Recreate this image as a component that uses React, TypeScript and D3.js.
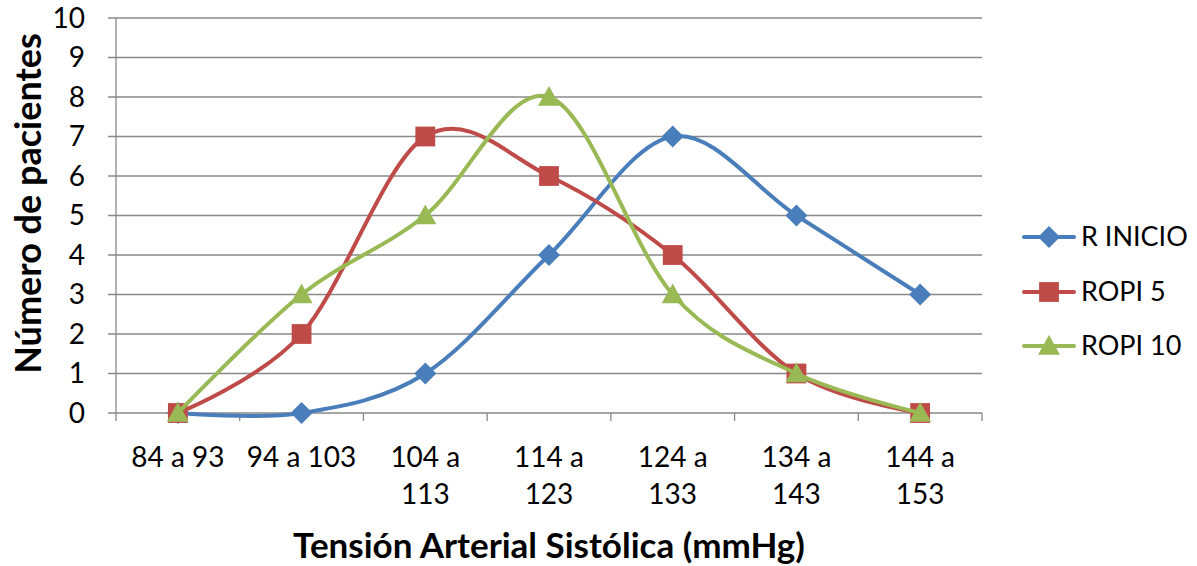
import React, { useEffect, useRef } from "react";
import * as d3 from "d3";

// categories on the x axis (two-line labels where the chart wraps them)
const categories = ["84 a 93", "94 a 103", "104 a 113", "114 a 123", "124 a 133", "134 a 143", "144 a 153"];
const categoryLines = [["84 a 93"], ["94 a 103"], ["104 a", "113"], ["114 a", "123"], ["124 a", "133"], ["134 a", "143"], ["144 a", "153"]];

const rInicio = [0, 0, 1, 4, 7, 5, 3];
const ropi5 = [0, 2, 7, 6, 4, 1, 0];
const ropi10 = [0, 3, 5, 8, 3, 1, 0];

const seriesNames = ["R INICIO", "ROPI 5", "ROPI 10"];
const seriesColors = ["#4A7EBB", "#BE4B48", "#98B954"];
const yTicks = [0, 1, 2, 3, 4, 5, 6, 7, 8, 9, 10];

const FONT = "Lato, 'Open Sans', sans-serif";

function App() {
  const ref = useRef<SVGSVGElement>(null);

  useEffect(() => {
    const svg = d3.select(ref.current);
    svg.selectAll("*").remove();

    const width = 1197, height = 566;
    const margin = { top: 18, right: 215, bottom: 153, left: 116 };
    const innerW = width - margin.left - margin.right;
    const innerH = height - margin.top - margin.bottom;

    const g = svg.append("g").attr("transform", `translate(${margin.left},${margin.top})`);

    const x = d3.scaleBand().domain(categories).range([0, innerW]);
    const y = d3.scaleLinear().domain([0, 10]).range([innerH, 0]);

    // horizontal gridlines + y tick marks
    g.selectAll("line.grid")
      .data(yTicks)
      .join("line")
      .attr("x1", -8)
      .attr("x2", innerW)
      .attr("y1", d => y(d))
      .attr("y2", d => y(d))
      .attr("stroke", "#898989")
      .attr("stroke-width", 1.3);

    // y axis line
    g.append("line")
      .attr("x1", 0).attr("x2", 0)
      .attr("y1", 0).attr("y2", innerH)
      .attr("stroke", "#898989").attr("stroke-width", 1.3);

    // x tick marks at band edges
    const edges = categories.map(c => x(c)!).concat([innerW]);
    g.selectAll("line.xtick")
      .data(edges)
      .join("line")
      .attr("x1", d => d).attr("x2", d => d)
      .attr("y1", innerH).attr("y2", innerH + 8)
      .attr("stroke", "#898989").attr("stroke-width", 1.3);

    // y tick labels
    g.selectAll("text.ylab")
      .data(yTicks)
      .join("text")
      .attr("x", -31)
      .attr("y", d => y(d))
      .attr("dy", "0.35em")
      .attr("text-anchor", "end")
      .style("font-family", FONT)
      .style("font-size", "28px")
      .attr("fill", "#000")
      .text(d => d);

    // x tick labels
    categories.forEach((c, i) => {
      const t = g.append("text")
        .attr("x", x(c)! + x.bandwidth() / 2)
        .attr("y", innerH + 54)
        .attr("text-anchor", "middle")
        .style("font-family", FONT)
        .style("font-size", "28px")
        .attr("fill", "#000");
      categoryLines[i].forEach((line, j) => {
        t.append("tspan")
          .attr("x", x(c)! + x.bandwidth() / 2)
          .attr("dy", j === 0 ? 0 : 37)
          .text(line);
      });
    });

    // axis titles
    svg.append("text")
      .attr("x", margin.left + innerW / 2)
      .attr("y", 558)
      .attr("text-anchor", "middle")
      .style("font-family", FONT)
      .style("font-size", "35px")
      .style("font-weight", "bold")
      .text("Tensión Arterial Sistólica (mmHg)");

    svg.append("text")
      .attr("transform", `translate(41,${margin.top + innerH / 2 - 12}) rotate(-90)`)
      .attr("text-anchor", "middle")
      .style("font-family", FONT)
      .style("font-size", "36px")
      .style("font-weight", "bold")
      .text("Número de pacientes");

    const allSeries = [rInicio, ropi5, ropi10];
    const cx = (i: number) => x(categories[i])! + x.bandwidth() / 2;

    const line = d3.line<number>()
      .x((_, i) => cx(i))
      .y(d => y(d))
      .curve(d3.curveCardinal.tension(0));

    const drawMarker = (sel: any, k: number, px: number, py: number, s: number) => {
      if (k === 0) {
        sel.append("path")
          .attr("d", `M${px},${py - s}L${px + s},${py}L${px},${py + s}L${px - s},${py}Z`)
          .attr("fill", seriesColors[k]);
      } else if (k === 1) {
        sel.append("rect")
          .attr("x", px - s * 0.9).attr("y", py - s * 0.9)
          .attr("width", s * 1.8).attr("height", s * 1.8)
          .attr("fill", seriesColors[k]);
      } else {
        sel.append("path")
          .attr("d", `M${px},${py - s}L${px + s},${py + s * 0.8}L${px - s},${py + s * 0.8}Z`)
          .attr("fill", seriesColors[k]);
      }
    };

    allSeries.forEach((data, k) => {
      const sg = g.append("g");
      sg.append("path")
        .datum(data)
        .attr("d", line)
        .attr("fill", "none")
        .attr("stroke", seriesColors[k])
        .attr("stroke-width", 4)
        .attr("stroke-linecap", "round");
      data.forEach((v, i) => drawMarker(sg, k, cx(i), y(v), 11));
    });

    // legend
    const legendY = [237, 292, 346];
    seriesNames.forEach((name, k) => {
      const lg = svg.append("g");
      lg.append("line")
        .attr("x1", 1024).attr("x2", 1074)
        .attr("y1", legendY[k]).attr("y2", legendY[k])
        .attr("stroke", seriesColors[k]).attr("stroke-width", 4)
        .attr("stroke-linecap", "round");
      drawMarker(lg, k, 1049, legendY[k], 11);
      lg.append("text")
        .attr("x", 1081).attr("y", legendY[k])
        .attr("dy", "0.35em")
        .style("font-family", FONT)
        .style("font-size", "27px")
        .text(name);
    });
  }, []);

  return (
    <svg ref={ref} width={1197} height={566} style={{ position: "absolute", left: 0, top: 0, background: "#fff" }} />
  );
}

export default App;
